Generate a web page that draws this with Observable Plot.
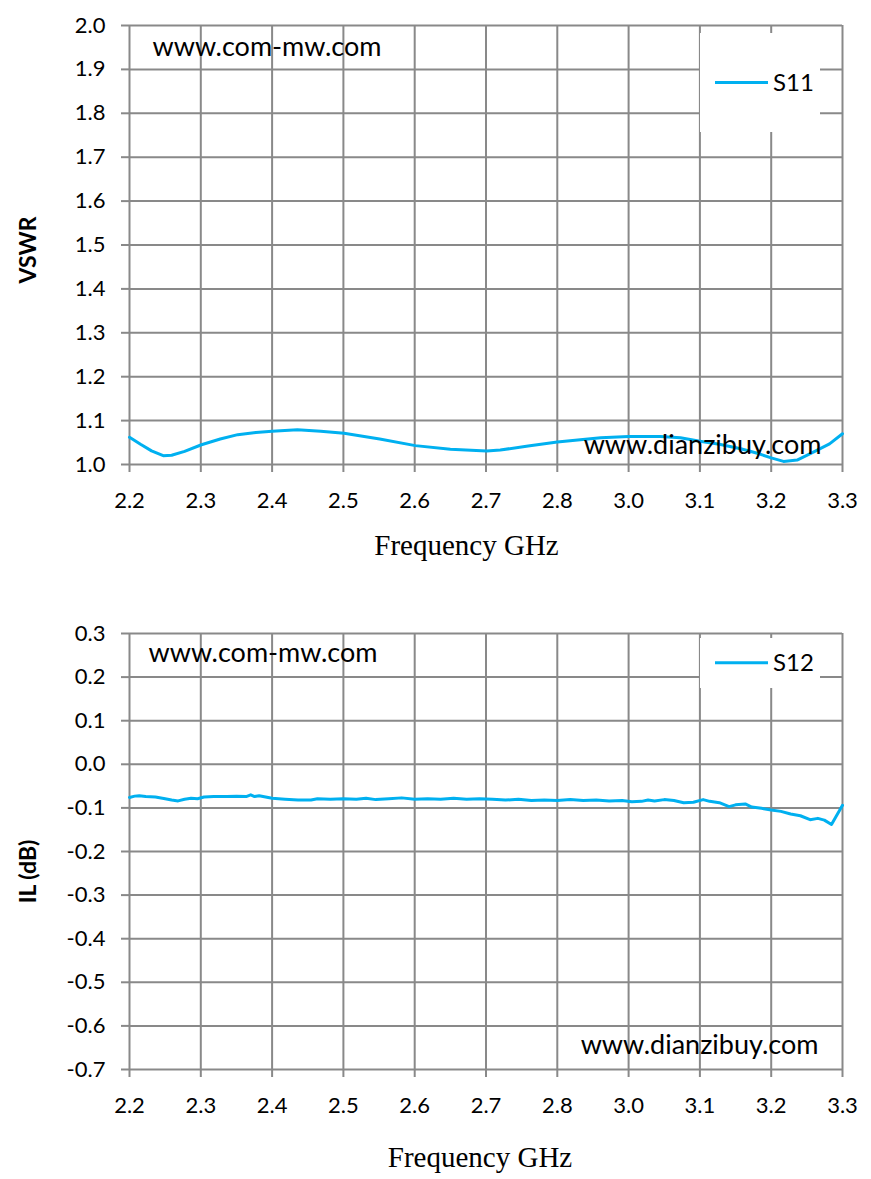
<!DOCTYPE html>
<html>
<head>
<meta charset="utf-8">
<script src="https://cdn.jsdelivr.net/npm/d3@7"></script>
<script src="https://cdn.jsdelivr.net/npm/@observablehq/plot@0.6"></script>
<style>
  html, body { margin: 0; padding: 0; background: #fff; }
  .chart { position: relative; width: 871px; height: 590px; }
  .chart > svg { display: block; }
  .legend { position: absolute; background: #fff; }
  .legend svg { position: absolute; left: 0; top: 0; }
</style>
</head>
<body>
<div id="top" class="chart"></div>
<div id="bottom" class="chart"></div>
<script>
// ---- data ----
const xTickValues = [2.2, 2.31, 2.42, 2.53, 2.64, 2.75, 2.86, 2.97, 3.08, 3.19, 3.3];
const xTickLabels = ["2.2", "2.3", "2.4", "2.5", "2.6", "2.7", "2.8", "3.0", "3.1", "3.2", "3.3"];
const vswrTicks = [1.0, 1.1, 1.2, 1.3, 1.4, 1.5, 1.6, 1.7, 1.8, 1.9, 2.0];
const ilTicks = [0.3, 0.2, 0.1, 0.0, -0.1, -0.2, -0.3, -0.4, -0.5, -0.6, -0.7];

const s11Freq = [2.200, 2.217, 2.234, 2.252, 2.265, 2.285, 2.311, 2.340, 2.367, 2.395, 2.420, 2.459, 2.495, 2.531, 2.586, 2.641, 2.695, 2.751, 2.772, 2.815, 2.860, 2.927, 2.970, 3.019, 3.050, 3.080, 3.110, 3.143, 3.170, 3.190, 3.209, 3.230, 3.255, 3.280, 3.300];
const s11Vswr = [1.062, 1.046, 1.031, 1.020, 1.021, 1.030, 1.045, 1.058, 1.068, 1.073, 1.076, 1.079, 1.076, 1.071, 1.058, 1.043, 1.035, 1.031, 1.033, 1.042, 1.051, 1.061, 1.064, 1.064, 1.061, 1.053, 1.046, 1.036, 1.025, 1.015, 1.007, 1.010, 1.028, 1.047, 1.070];

const s12Freq = [2.200, 2.208, 2.215, 2.225, 2.240, 2.255, 2.265, 2.275, 2.285, 2.295, 2.305, 2.315, 2.330, 2.350, 2.365, 2.380, 2.387, 2.393, 2.400, 2.410, 2.420, 2.440, 2.460, 2.480, 2.490, 2.510, 2.530, 2.550, 2.565, 2.580, 2.600, 2.620, 2.640, 2.660, 2.680, 2.700, 2.720, 2.740, 2.760, 2.780, 2.800, 2.820, 2.840, 2.860, 2.880, 2.900, 2.920, 2.940, 2.960, 2.975, 2.990, 3.000, 3.010, 3.025, 3.040, 3.055, 3.070, 3.085, 3.095, 3.110, 3.125, 3.135, 3.150, 3.160, 3.175, 3.190, 3.205, 3.220, 3.235, 3.250, 3.262, 3.272, 3.283, 3.300];
const s12IL = [-0.076, -0.073, -0.072, -0.074, -0.075, -0.079, -0.082, -0.084, -0.080, -0.078, -0.079, -0.075, -0.074, -0.074, -0.073, -0.074, -0.070, -0.074, -0.072, -0.075, -0.078, -0.080, -0.082, -0.082, -0.079, -0.080, -0.079, -0.080, -0.078, -0.081, -0.079, -0.077, -0.080, -0.079, -0.080, -0.078, -0.080, -0.079, -0.080, -0.082, -0.080, -0.083, -0.082, -0.083, -0.081, -0.083, -0.082, -0.084, -0.083, -0.086, -0.085, -0.082, -0.084, -0.081, -0.083, -0.088, -0.087, -0.081, -0.085, -0.088, -0.097, -0.093, -0.091, -0.098, -0.101, -0.105, -0.108, -0.114, -0.118, -0.127, -0.124, -0.128, -0.138, -0.094];

// ---- styles ----
const gridColor = "#898989";
const lineColor = "#00B0F0";
const sansFont = "Lato, 'Open Sans', sans-serif";
const serifFont = "'Liberation Serif', 'DejaVu Serif', serif";
const xTitle = "Frequency GHz";

function makeChart({el, data, yDomain, yTicks, yLabel, yLabelDy, height, marginTop, marginBottom, xTitleDx, xTitleDy, legend, wm1, wm2}) {
  const chart = Plot.plot({
    width: 871,
    height,
    marginLeft: 129,
    marginRight: 29,
    marginTop,
    marginBottom,
    style: {fontFamily: sansFont, fontSize: "22px", color: "#000", background: "#fff"},
    x: {domain: [2.2, 3.3]},
    y: {domain: yDomain},
    marks: [
      Plot.gridX(xTickValues, {stroke: gridColor, strokeOpacity: 1, strokeWidth: 2}),
      Plot.gridY(yTicks, {stroke: gridColor, strokeOpacity: 1, strokeWidth: 2}),
      Plot.axisX({ticks: xTickValues, tickFormat: (d, i) => xTickLabels[i], tickSize: 8, tickPadding: 20, stroke: gridColor, strokeWidth: 2, strokeOpacity: 1, fill: "#000", fontSize: 22, label: null}),
      Plot.axisY({ticks: yTicks, tickFormat: d => d.toFixed(1), tickSize: 8, tickPadding: 16, stroke: gridColor, strokeWidth: 2, strokeOpacity: 1, fill: "#000", fontSize: 22, label: null}),
      Plot.line(data, {x: "f", y: "v", stroke: lineColor, strokeWidth: 3, curve: "linear"}),
      Plot.text([wm1.text], {frameAnchor: "top-left", lineAnchor: "middle", dx: wm1.dx, dy: wm1.dy, fontSize: 27, fill: "#000", textAnchor: "start", fontFamily: sansFont}),
      Plot.text([wm2.text], {frameAnchor: "bottom-right", lineAnchor: "middle", dx: wm2.dx, dy: wm2.dy, fontSize: 27, fill: "#000", textAnchor: "end", fontFamily: sansFont}),
      Plot.text([yLabel], {frameAnchor: "left", textAnchor: "middle", lineAnchor: "middle", rotate: -90, dx: -101, dy: yLabelDy, fontSize: 23, fontWeight: "bold", fill: "#000", fontFamily: sansFont}),
      Plot.text([xTitle], {frameAnchor: "bottom", lineAnchor: "middle", dx: xTitleDx, dy: xTitleDy, fontSize: 29, fill: "#000", fontFamily: serifFont})
    ]
  });
  el.appendChild(chart);
  const lg = document.createElement("div");
  lg.className = "legend";
  lg.style.left = "700px";
  lg.style.top = legend.top + "px";
  lg.style.width = "120px";
  lg.style.height = legend.height + "px";
  lg.innerHTML = `<svg width="120" height="${legend.height}"><line x1="15" x2="68" y1="${legend.lineY}" y2="${legend.lineY}" stroke="${lineColor}" stroke-width="3"/><text x="73" y="${legend.lineY + 8.6}" font-family="${sansFont.replace(/'/g, "&quot;")}" font-size="24" fill="#000">${legend.label}</text></svg>`;
  el.appendChild(lg);
}

makeChart({
  el: document.getElementById("top"),
  data: s11Freq.map((f, i) => ({f, v: s11Vswr[i]})),
  yDomain: [1.0, 2.0],
  yTicks: vswrTicks,
  yLabel: "VSWR",
  yLabelDy: 5,
  height: 590,
  marginTop: 25,
  marginBottom: 126,
  xTitleDx: -19.5,
  xTitleDy: 81,
  legend: {label: "S11", top: 33, height: 99, lineY: 49.5},
  wm1: {text: "www.com-mw.com", dx: 23, dy: 21.5},
  wm2: {text: "www.dianzibuy.com", dx: -21, dy: -19.5}
});

makeChart({
  el: document.getElementById("bottom"),
  data: s12Freq.map((f, i) => ({f, v: s12IL[i]})),
  yDomain: [-0.7, 0.3],
  yTicks: ilTicks,
  yLabel: "IL (dB)",
  yLabelDy: 20,
  height: 589,
  marginTop: 43,
  marginBottom: 110,
  xTitleDx: -6,
  xTitleDy: 88,
  legend: {label: "S12", top: 48, height: 50, lineY: 24.7},
  wm1: {text: "www.com-mw.com", dx: 19, dy: 20},
  wm2: {text: "www.dianzibuy.com", dx: -24, dy: -24}
});
</script>
</body>
</html>
